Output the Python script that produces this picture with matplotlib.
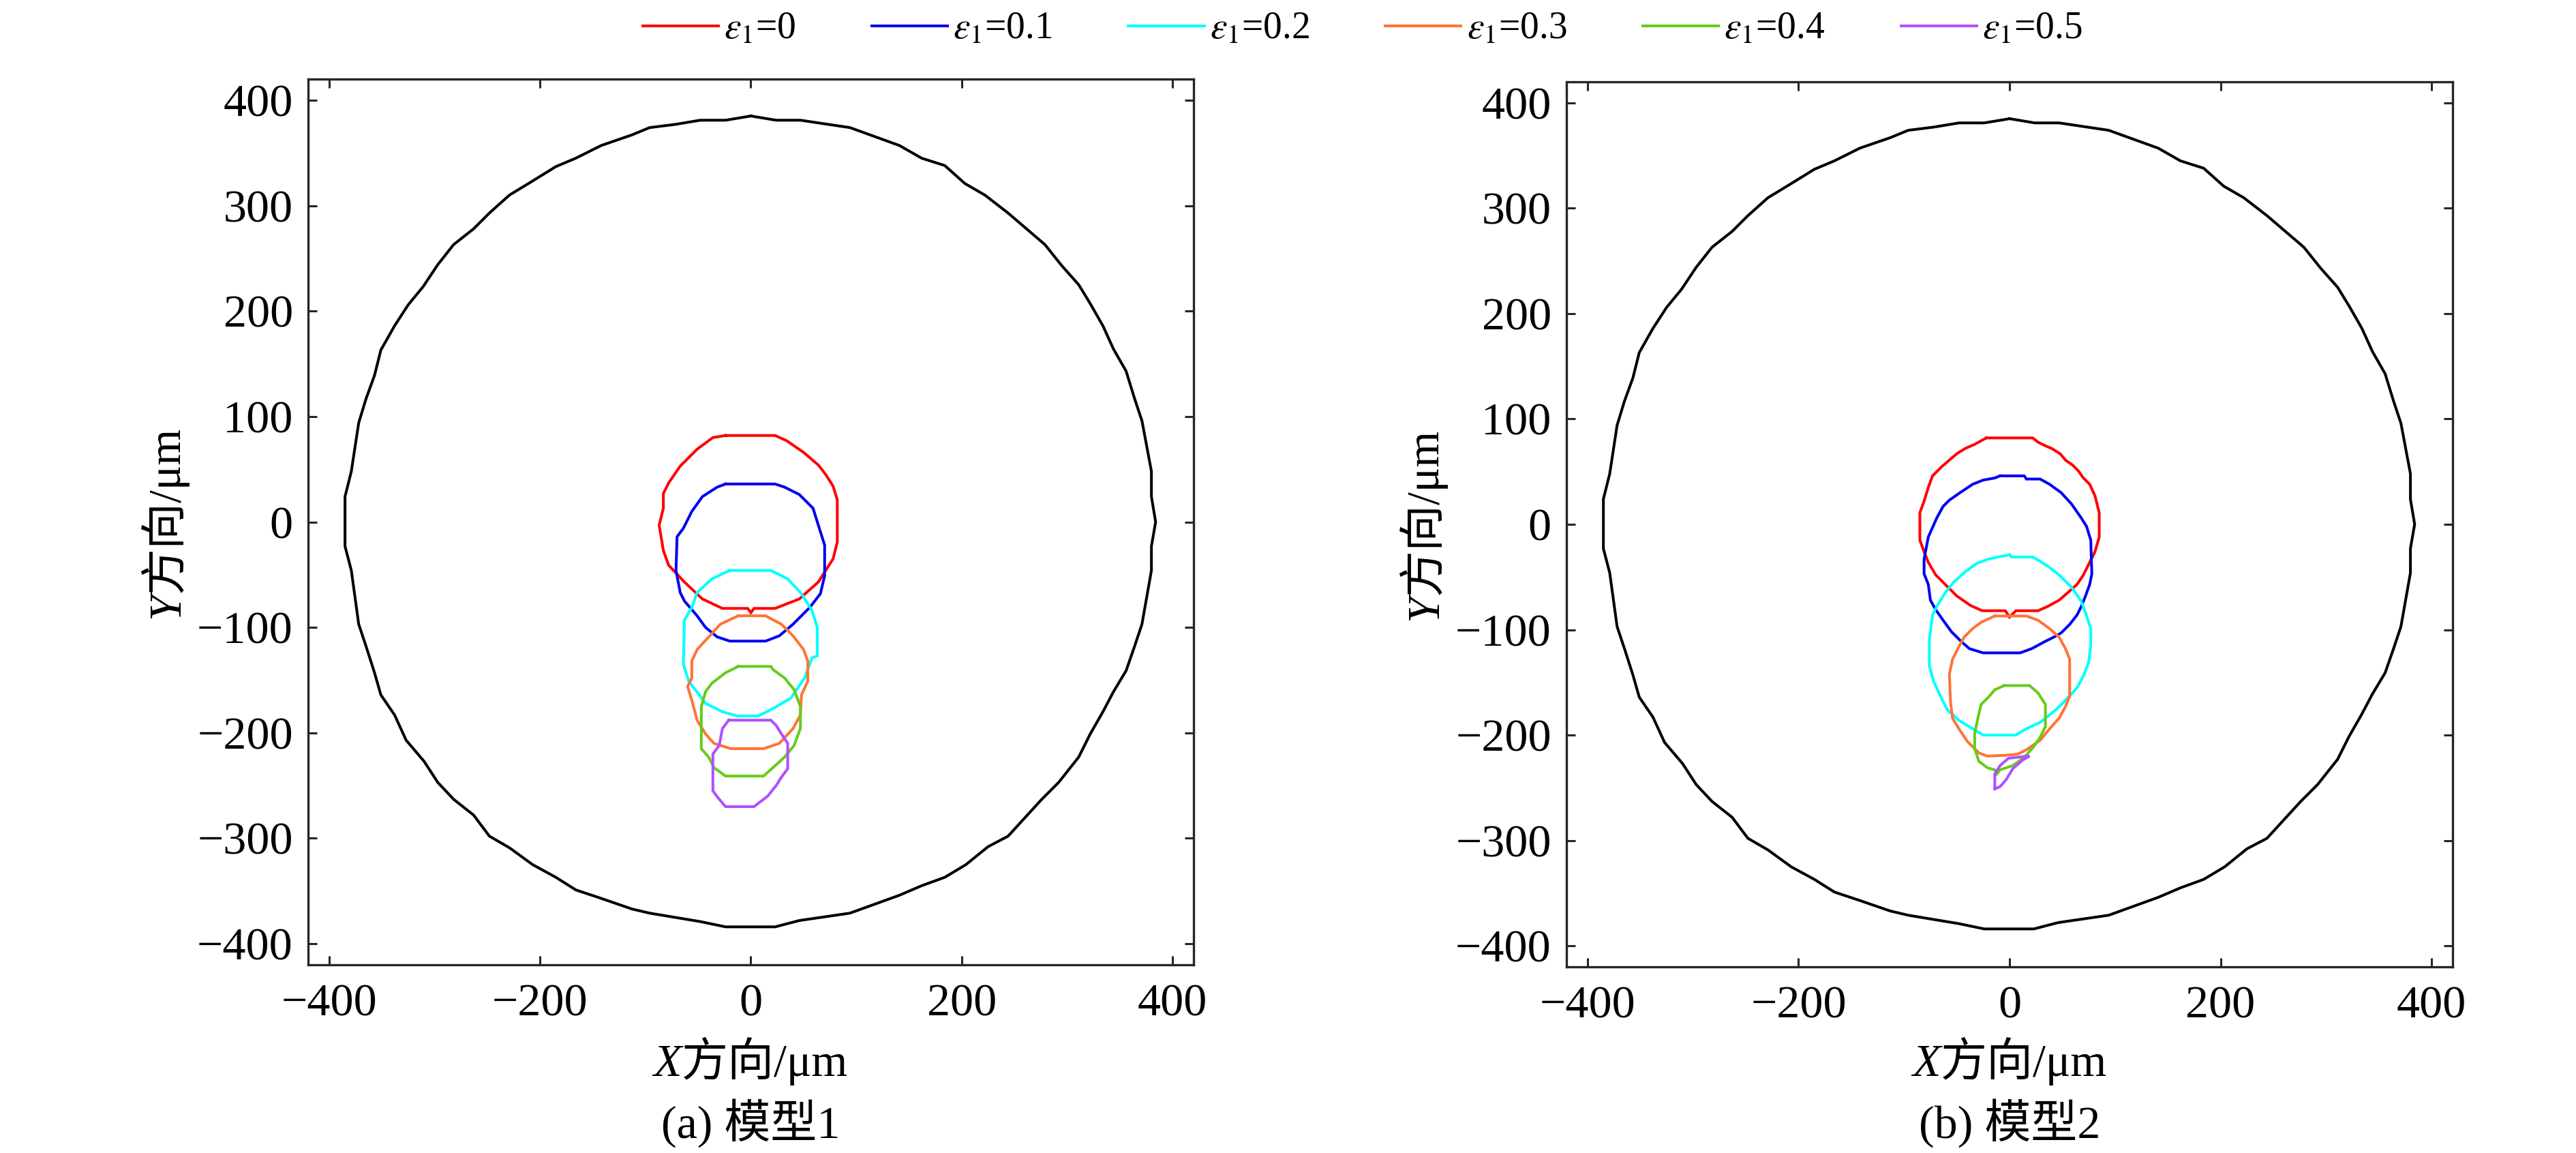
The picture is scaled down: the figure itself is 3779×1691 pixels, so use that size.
import matplotlib
matplotlib.use('Agg')
import matplotlib.pyplot as plt
from matplotlib.transforms import IdentityTransform
import numpy as np

FAM = ['Liberation Serif', 'Noto Sans CJK SC']
plt.rcParams['font.family'] = FAM
plt.rcParams['mathtext.fontset'] = 'stix'
plt.rcParams['axes.unicode_minus'] = True

# ---------------- data ----------------
legend_labels = [r'$\varepsilon_1$=0', r'$\varepsilon_1$=0.1', r'$\varepsilon_1$=0.2',
                 r'$\varepsilon_1$=0.3', r'$\varepsilon_1$=0.4', r'$\varepsilon_1$=0.5']
series_colors = ['#FF0000', '#0000F0', '#00FFFF', '#FF7438', '#66CC1A', '#B050FF']
x_ticks = [-400, -200, 0, 200, 400]
y_ticks = [-400, -300, -200, -100, 0, 100, 200, 300, 400]
captions = ['(a) 模型1', '(b) 模型2']

# outer workpiece boundary (µm)
outer_boundary = [
    (0, 385), (24, 381), (47, 381), (94, 374), (141, 357), (162, 345), (184, 338),
    (203, 321), (222, 310), (244, 293), (265, 275), (279, 263), (295, 243), (311, 225),
    (322, 207), (334, 186), (344, 164), (356, 143), (364, 117), (371, 96), (380, 48),
    (380, 24), (384, 0), (380, -23), (380, -46), (371, -97), (364, -118), (356, -141),
    (344, -161), (334, -180), (322, -201), (311, -223), (292, -247), (276, -263),
    (244, -298), (225, -308), (204, -325), (184, -337), (162, -345), (141, -354),
    (94, -371), (46, -378), (23, -384), (-24, -384), (-48, -379), (-96, -371),
    (-113, -367), (-142, -357), (-166, -349), (-185, -337), (-207, -325), (-229, -309),
    (-248, -298), (-263, -278), (-282, -263), (-297, -247), (-310, -227), (-327, -207),
    (-338, -183), (-351, -164), (-357, -143), (-365, -118), (-372, -97), (-379, -46),
    (-385, -23), (-385, 24), (-379, 48), (-372, 94), (-365, 117), (-357, 139),
    (-351, 163), (-338, 186), (-325, 206), (-311, 223), (-297, 244), (-282, 263),
    (-263, 278), (-248, 293), (-229, 310), (-206, 324), (-185, 337), (-166, 345),
    (-142, 357), (-113, 367), (-96, 374), (-72, 377), (-48, 381), (-24, 381),
]

# model 1 contours
m1_eps00 = [(-24, 82), (23, 82), (34, 77), (50, 66), (64, 54), (71, 45), (78, 34),
            (82, 21), (82, -19), (78, -35), (64, -57), (46, -73), (23, -82), (3, -82),
            (0, -86), (-3, -82), (-27, -82), (-46, -73), (-63, -57), (-78, -41),
            (-83, -27), (-87, -3), (-83, 13), (-83, 27), (-78, 37), (-67, 53),
            (-51, 69), (-36, 80)]
m1_eps01 = [(-24, 36), (23, 36), (32, 33), (46, 26), (59, 13), (64, -3), (70, -22),
            (70, -51), (66, -68), (56, -81), (40, -97), (27, -108), (14, -113),
            (-20, -113), (-32, -109), (-43, -100), (-51, -89), (-63, -75), (-67, -67),
            (-71, -46), (-70, -14), (-64, -6), (-56, 10), (-46, 24), (-32, 33)]
m1_eps02 = [(-20, -46), (19, -46), (35, -54), (48, -68), (58, -84), (63, -100),
            (63, -127), (58, -129), (51, -148), (38, -167), (21, -177), (7, -184),
            (-13, -184), (-27, -180), (-43, -172), (-52, -160), (-59, -151),
            (-64, -135), (-63, -93), (-56, -81), (-51, -67), (-37, -54)]
m1_eps03 = [(-12, -89), (14, -89), (29, -97), (40, -108), (50, -121), (54, -132),
            (54, -151), (48, -164), (47, -183), (40, -196), (27, -210), (12, -215),
            (-19, -215), (-35, -210), (-43, -201), (-51, -188), (-56, -169),
            (-60, -156), (-56, -148), (-56, -132), (-51, -121), (-39, -108), (-29, -97)]
m1_eps04 = [(-12, -137), (19, -137), (21, -140), (32, -148), (41, -159), (47, -175),
            (47, -196), (41, -212), (32, -223), (21, -233), (12, -241), (-24, -241),
            (-35, -233), (-40, -223), (-47, -215), (-47, -175), (-43, -161),
            (-37, -153), (-24, -143)]
m1_eps05 = [(-21, -188), (19, -188), (24, -193), (29, -201), (35, -210), (35, -234),
            (29, -242), (24, -250), (16, -260), (3, -270), (-24, -270), (-30, -263),
            (-36, -255), (-36, -220), (-30, -212), (-27, -196)]

# model 2 contours
m2_eps00 = [(-22, 82), (22, 82), (27, 78), (33, 75), (40, 72), (48, 67), (53, 61),
            (60, 56), (65, 51), (70, 44), (76, 38), (81, 27), (85, 11), (85, -12),
            (81, -26), (76, -36), (70, -48), (64, -57), (55, -65), (47, -72),
            (36, -78), (27, -82), (6, -82), (0, -88), (-4, -82), (-26, -82),
            (-37, -77), (-50, -68), (-59, -59), (-70, -48), (-77, -36), (-81, -26),
            (-85, -15), (-85, 11), (-81, 22), (-77, 35), (-73, 46), (-64, 55),
            (-57, 61), (-50, 67), (-42, 72), (-33, 76)]
m2_eps01 = [(-9, 46), (14, 46), (16, 43), (29, 43), (38, 38), (49, 30), (59, 19),
            (68, 6), (73, -2), (77, -15), (78, -47), (76, -57), (72, -68), (68, -78),
            (64, -86), (57, -95), (49, -103), (42, -107), (34, -111), (21, -118),
            (10, -122), (-25, -122), (-38, -118), (-46, -111), (-55, -102),
            (-63, -91), (-70, -81), (-75, -72), (-77, -57), (-81, -47), (-81, -33),
            (-77, -12), (-73, -3), (-69, 6), (-63, 17), (-57, 23), (-47, 30),
            (-35, 38), (-25, 42), (-14, 44)]
m2_eps02 = [(0, -29), (2, -31), (22, -31), (29, -35), (38, -41), (47, -48),
            (59, -60), (68, -73), (72, -84), (77, -99), (77, -115), (75, -131),
            (70, -144), (64, -155), (55, -165), (44, -176), (29, -188), (16, -194),
            (6, -200), (-25, -200), (-35, -194), (-48, -186), (-59, -176),
            (-65, -164), (-72, -149), (-76, -134), (-76, -110), (-73, -86),
            (-69, -78), (-61, -65), (-53, -55), (-42, -45), (-31, -37), (-20, -33),
            (-6, -30)]
m2_eps03 = [(-14, -87), (16, -87), (27, -91), (38, -99), (47, -107), (53, -118),
            (57, -128), (57, -163), (53, -173), (47, -184), (38, -194), (29, -205),
            (16, -214), (8, -218), (-1, -219), (-21, -220), (-29, -217), (-40, -206),
            (-48, -194), (-54, -184), (-56, -168), (-57, -142), (-54, -128),
            (-49, -118), (-43, -107), (-35, -99), (-27, -93)]
m2_eps04 = [(-5, -153), (19, -153), (27, -160), (34, -171), (34, -192), (29, -202),
            (23, -211), (14, -221), (3, -229), (-9, -233), (-12, -237), (-14, -233),
            (-21, -231), (-29, -225), (-33, -213), (-33, -198), (-30, -184),
            (-27, -171), (-20, -164), (-14, -157)]
m2_eps05 = [(-14, -251), (-14, -237), (-9, -229), (-1, -222), (8, -221), (19, -220),
            (12, -224), (3, -232), (-3, -242), (-9, -249)]

model_contours = [
    [m1_eps00, m1_eps01, m1_eps02, m1_eps03, m1_eps04, m1_eps05],
    [m2_eps00, m2_eps01, m2_eps02, m2_eps03, m2_eps04, m2_eps05],
]

# ---------------- figure ----------------
W, H, DPI = 3780, 1691, 100
fig = plt.figure(figsize=(W / DPI, H / DPI), dpi=DPI)

SPINE = '#262626'
TICK_FS = 49
axes_px = [(452, 116, 1299, 1299), (2298, 120, 1300, 1298)]  # left, top, w, h


def closed(pts):
    a = np.array(pts + [pts[0]], dtype=float)
    return a[:, 0], a[:, 1]


axes = []
for k, (l, t, w, h) in enumerate(axes_px):
    ax = fig.add_axes([l / W, 1 - (t + h) / H, w / W, h / H])
    ox, oy = closed(outer_boundary)
    ax.plot(ox, oy, color='black', lw=2.9, solid_joinstyle='miter')
    for pts, c, lab in zip(model_contours[k], series_colors, legend_labels):
        cx, cy = closed(pts)
        ax.plot(cx, cy, color=c, lw=2.9, label=lab, solid_joinstyle='miter')
    ax.set_xlim(-420, 420)
    ax.set_ylim(-420, 420)
    ax.set_xticks(x_ticks)
    ax.set_yticks(y_ticks)
    ax.tick_params(direction='in', length=9.5, width=2.2, color=SPINE,
                   top=True, right=True, labelsize=TICK_FS, labelcolor='black')
    ax.tick_params(axis='x', pad=20)
    ax.tick_params(axis='y', pad=16)
    for sp in ax.spines.values():
        sp.set_linewidth(2.4)
        sp.set_color(SPINE)
    axes.append(ax)

renderer = fig.canvas.get_renderer()


def mixed_text(x, y, parts, size, rotation=0):
    widths = []
    for s, st in parts:
        tmp = fig.text(0, 0, s, fontsize=size, style=st, family=FAM)
        widths.append(tmp.get_window_extent(renderer).width)
        tmp.remove()
    pos = -sum(widths) / 2.0
    for (s, st), wd in zip(parts, widths):
        if rotation == 0:
            fig.text(x + pos, y, s, fontsize=size, style=st, family=FAM,
                     transform=IdentityTransform(), ha='left', va='baseline')
        else:
            fig.text(x, y + pos, s, fontsize=size, style=st, family=FAM,
                     transform=IdentityTransform(), ha='left', va='baseline',
                     rotation=90, rotation_mode='anchor')
        pos += wd


xlabel_parts = [('X', 'italic'), ('方向/μm', 'normal')]
ylabel_parts = [('Y', 'italic'), ('方向/μm', 'normal')]
for k, (l, t, w, h) in enumerate(axes_px):
    cx = l + w / 2.0
    mixed_text(cx, H - 1578, xlabel_parts, TICK_FS)
    mixed_text(l - 190, H - (t + h / 2.0), ylabel_parts, TICK_FS, rotation=90)
    fig.text(cx / W, 21 / H, captions[k], fontsize=TICK_FS, ha='center',
             va='baseline', family=FAM)

handles, labels = axes[0].get_legend_handles_labels()
fig.legend(handles, labels, loc='center left', bbox_to_anchor=(943 / W, 1 - 43 / H),
           ncol=6, frameon=False, fontsize=40, handlelength=2.0,
           handletextpad=0.15, columnspacing=2.0, borderpad=0, borderaxespad=0)

fig.savefig('out.png', dpi=DPI)
